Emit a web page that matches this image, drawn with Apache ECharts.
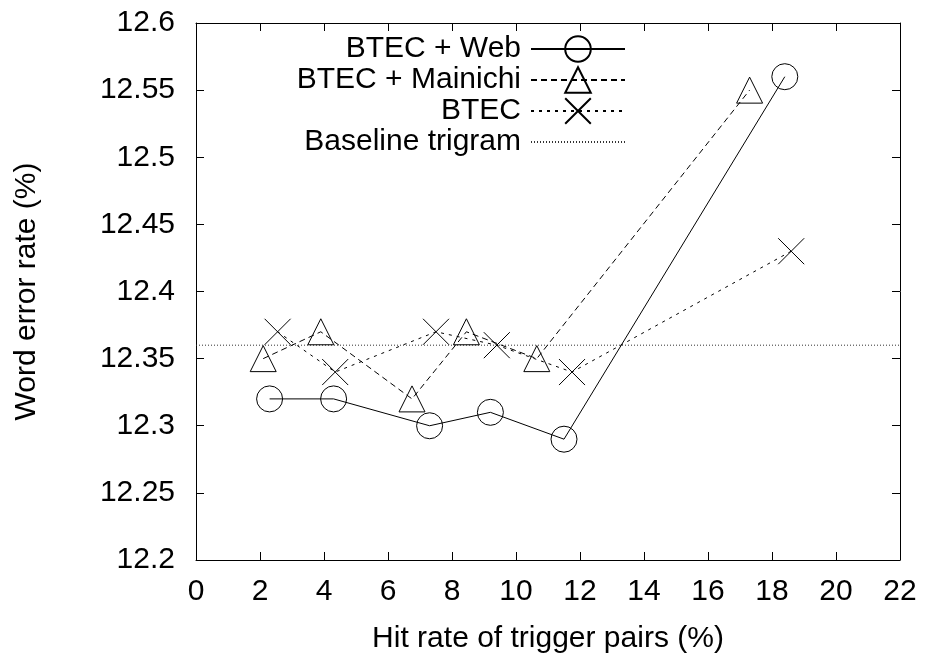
<!DOCTYPE html>
<html>
<head>
<meta charset="utf-8">
<title>Word error rate vs hit rate</title>
<script src="https://cdn.jsdelivr.net/npm/echarts@6/dist/echarts.min.js"></script>
<style>
  html, body { margin: 0; padding: 0; background: #fff; }
  #chart { width: 926px; height: 660px; }
</style>
</head>
<body>
<div id="chart"></div>
<script>
// data: [hit rate %, word error rate %]
const seriesNames = ['BTEC + Web', 'BTEC + Mainichi', 'BTEC', 'Baseline trigram']
const webData = [[2.3, 12.32], [4.3, 12.32], [7.3, 12.30], [9.2, 12.31], [11.5, 12.29], [18.4, 12.56]]
const mainichiData = [[2.1, 12.35], [3.9, 12.37], [6.75, 12.32], [8.45, 12.37], [10.65, 12.35], [17.3, 12.55]]
const btecData = [[2.55, 12.37], [4.35, 12.34], [7.5, 12.37], [9.4, 12.36], [11.75, 12.34], [18.6, 12.43]]
const baselineValue = 12.36
const xTicks = [0, 22, 2] // min, max, step
const yTicks = [12.2, 12.6, 0.05]

const font = '"Liberation Sans", Arial, Helvetica, sans-serif'
const fontSize = 30

const crossPath = 'path://M0,0L10,10M10,0L0,10'

function frameAxis (pos, ticks, showLabels) {
  return {
    type: 'value',
    position: pos,
    min: ticks[0],
    max: ticks[1],
    interval: ticks[2],
    axisLine: { show: true, onZero: false, lineStyle: { color: '#000', width: 1 } },
    axisTick: { show: true, inside: true, length: 8, lineStyle: { color: '#000', width: 1 } },
    splitLine: { show: false },
    axisLabel: {
      show: showLabels,
      color: '#000',
      fontFamily: font,
      fontSize: fontSize,
      formatter: v => String(parseFloat(v.toFixed(2)))
    }
  }
}

const xBottom = frameAxis('bottom', xTicks, true)
xBottom.axisLabel.margin = 17
xBottom.name = 'Hit rate of trigger pairs (%)'
xBottom.nameLocation = 'middle'
xBottom.nameGap = 64
xBottom.nameTextStyle = { color: '#000', fontFamily: font, fontSize: fontSize }

const yLeft = frameAxis('left', yTicks, true)
yLeft.axisLabel.margin = 21
yLeft.name = 'Word error rate (%)'
yLeft.nameLocation = 'middle'
yLeft.nameGap = 154
yLeft.nameTextStyle = { color: '#000', fontFamily: font, fontSize: fontSize }

function lineSeries (name, data, symbol, dash) {
  return {
    name: name,
    type: 'line',
    data: data,
    symbol: symbol,
    symbolSize: 26,
    showSymbol: true,
    lineStyle: { color: '#000', width: 1, type: dash },
    itemStyle: { color: 'rgba(0,0,0,0)', borderColor: '#000', borderWidth: 1 },
    emphasis: { disabled: true },
    z: 3
  }
}

const option = {
  animation: false,
  backgroundColor: '#fff',
  grid: { left: 196, right: 26, top: 23, bottom: 100 },
  legend: {
    orient: 'vertical',
    align: 'right',
    right: 295,
    top: 29,
    itemWidth: 94,
    itemHeight: 32,
    itemGap: 1,
    textStyle: {
      color: '#000',
      fontFamily: font,
      fontSize: fontSize,
      padding: [0, 5, 0, 0]
    },
    data: seriesNames
  },
  xAxis: [xBottom, frameAxis('top', xTicks, false)],
  yAxis: [yLeft, frameAxis('right', yTicks, false)],
  series: []
}

option.series.push(lineSeries(seriesNames[0], webData, 'circle', 'solid'))
option.series.push(lineSeries(seriesNames[1], mainichiData, 'triangle', [6, 4]))
option.series.push(lineSeries(seriesNames[2], btecData, crossPath, [3, 5]))

// horizontal reference line, no marker (also hidden in the legend)
const baseline = lineSeries(seriesNames[3], [[xTicks[0], baselineValue], [xTicks[1], baselineValue]], 'none', [1, 2])
baseline.lineStyle.color = '#333'
baseline.itemStyle = { color: 'rgba(0,0,0,0)', borderColor: 'rgba(0,0,0,0)', borderWidth: 0 }
baseline.z = 2
option.series.push(baseline)

const chart = echarts.init(document.getElementById('chart'))
chart.setOption(option)
</script>
</body>
</html>
